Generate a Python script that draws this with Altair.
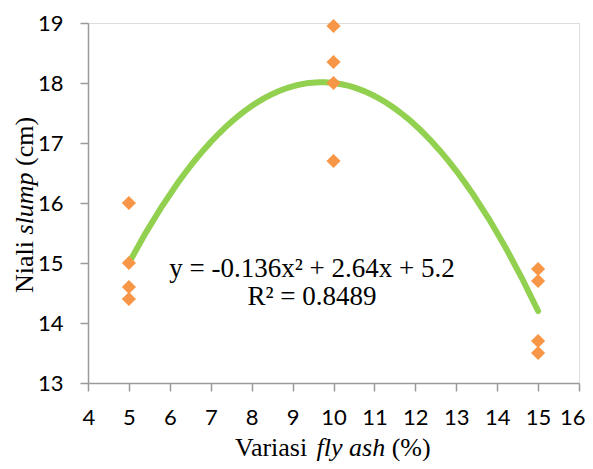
import altair as alt
import pandas as pd

# data
fly_ash = [5, 5, 5, 5, 10, 10, 10, 10, 15, 15, 15, 15]
slump = [16.0, 15.0, 14.6, 14.4, 18.95, 18.35, 18.0, 16.7, 14.9, 14.7, 13.7, 13.5]
x_ticks = list(range(4, 17))
y_ticks = list(range(13, 20))
equation = "y = -0.136x\u00b2 + 2.64x + 5.2"
r_squared = "R\u00b2 = 0.8489"
x_title = ["Variasi", "fly ash", "(%)"]
y_title = ["Niali", "slump", "(cm)"]

df = pd.DataFrame({"x": fly_ash, "y": slump})

W, H = 491, 360
AX = "#9a9a9a"
SERIF = "Liberation Serif"

xs = alt.Scale(domain=[4, 16], nice=False, zero=False)
ys = alt.Scale(domain=[13, 19], nice=False, zero=False)

xaxis = alt.Axis(values=x_ticks, format="d", title=None, grid=False, domainColor=AX, tickColor=AX,
                 domainWidth=1.5, tickWidth=1.5, tickSize=8, labelFont="Lato",
                 labelFontSize=22, labelFontWeight=400, labelColor="#000000",
                 labelPadding=16, labelFlush=True, labelFlushOffset=6, labelOverlap=False)
yaxis = alt.Axis(values=y_ticks, format="d", title=None, grid=False, domainColor=AX, tickColor=AX,
                 domainWidth=1.5, tickWidth=1.5, tickSize=8, labelFont="Lato",
                 labelFontSize=22, labelFontWeight=400, labelColor="#000000",
                 labelPadding=17, labelFlush=False, labelOverlap=False)

base = alt.Chart(df)

points = base.mark_point(shape="diamond", filled=True, size=200, color="#F79646", opacity=1).encode(
    x=alt.X("x:Q", scale=xs, axis=xaxis),
    y=alt.Y("y:Q", scale=ys, axis=yaxis),
)

trend = base.transform_regression("x", "y", method="poly", order=2, extent=[5, 15]).mark_line(
    color="#92D050", strokeWidth=6, strokeCap="round"
).encode(x=alt.X("x:Q", scale=xs), y=alt.Y("y:Q", scale=ys))


def txt(s, x, y, size=26, style="normal", align="left", angle=0):
    d = pd.DataFrame({"t": [s]})
    kw = dict(font=SERIF, fontSize=size, fontStyle=style, align=align,
              baseline="alphabetic", color="#000000")
    if angle:
        kw["angle"] = angle
    return alt.Chart(d).mark_text(**kw).encode(
        x=alt.value(x), y=alt.value(y), text="t:N")


eq1 = txt(equation, 224, 254, size=27, align="center")
eq2 = txt(r_squared, 224, 282, size=27, align="center")

xt1 = txt(x_title[0], 147, 433)
xt2 = txt(x_title[1], 228.6, 433, style="italic")
xt3 = txt(x_title[2], 303.7, 433)

yt1 = txt(y_title[0], -55, 270, angle=270)
yt2 = txt(y_title[1], -55, 211.5, style="italic", angle=270)
yt3 = txt(y_title[2], -55, 142.9, angle=270)

chart = alt.layer(trend, points, eq1, eq2, xt1, xt2, xt3, yt1, yt2, yt3).properties(
    width=W, height=H,
    autosize=alt.AutoSizeParams(type="none"),
    padding={"left": 80, "top": 15, "right": 6, "bottom": 78},
).configure_view(stroke=None).configure(background="white")

chart.save("out.html", embed_options={"renderer": "svg", "actions": False})
